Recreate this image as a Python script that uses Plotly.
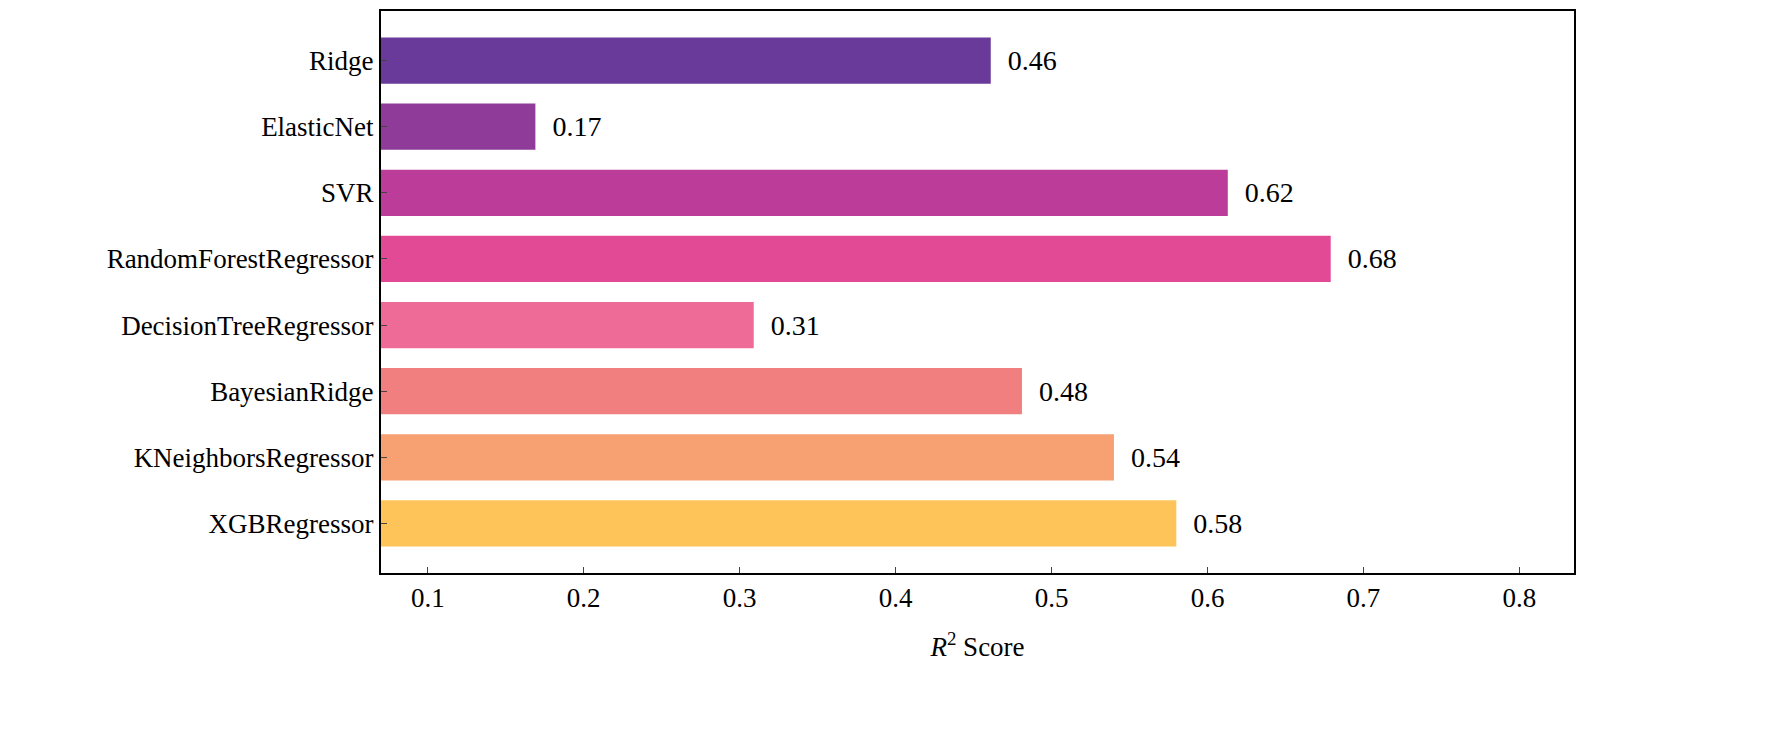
import plotly.graph_objects as go

models = ["Ridge", "ElasticNet", "SVR", "RandomForestRegressor", "DecisionTreeRegressor",
          "BayesianRidge", "KNeighborsRegressor", "XGBRegressor"]
scores = [0.461, 0.169, 0.613, 0.679, 0.309, 0.481, 0.540, 0.580]
labels = ["0.46", "0.17", "0.62", "0.68", "0.31", "0.48", "0.54", "0.58"]
colors = ["#6a3a9a", "#8e3b9a", "#bc3d99", "#e24a96", "#ed6b96", "#f27f80", "#f7a172", "#fec459"]

fig = go.Figure(go.Bar(
    x=scores, y=models, orientation="h",
    marker=dict(color=colors, line=dict(width=0)),
    width=0.7, text=["  " + t for t in labels], textposition="outside",
    textfont=dict(size=28, color="black"), cliponaxis=False,
))

fig.update_layout(
    width=1782, height=745,
    margin=dict(l=373, r=216, t=1, b=180),
    plot_bgcolor="white", paper_bgcolor="white",
    font=dict(family="Liberation Serif", size=27, color="black"),
    showlegend=False,
    xaxis=dict(range=[0.07, 0.835], tickvals=[0.1, 0.2, 0.3, 0.4, 0.5, 0.6, 0.7, 0.8],
               ticktext=["0.1", "0.2", "0.3", "0.4", "0.5", "0.6", "0.7", "0.8"],
               ticks="inside", ticklen=6, showgrid=False, zeroline=False,
               showline=True, mirror=True, linecolor="black", linewidth=2,
               tickfont=dict(size=27),
               title=dict(text="<i>R</i><sup>2</sup> Score", font=dict(size=27), standoff=25)),
    yaxis=dict(autorange=False, range=[7.75, -0.75], ticks="inside", ticklen=6,
               showgrid=False, showline=True, mirror=True, linecolor="black",
               linewidth=2, tickfont=dict(size=27)),
)

fig.write_html("out.html")
